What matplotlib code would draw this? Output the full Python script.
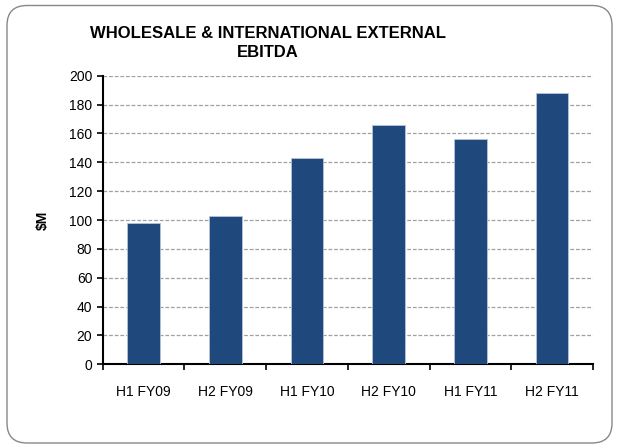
import matplotlib.pyplot as plt
from matplotlib.patches import FancyBboxPatch

periods = ["H1 FY09", "H2 FY09", "H1 FY10", "H2 FY10", "H1 FY11", "H2 FY11"]
ebitda = [98, 103, 143, 166, 156, 188]
yticks = [0, 20, 40, 60, 80, 100, 120, 140, 160, 180, 200]

plt.rcParams["font.family"] = ["Liberation Sans", "DejaVu Sans"]

fig = plt.figure(figsize=(6.19, 4.46), dpi=100)
W, H = 619, 446

# rounded chart frame (inches), kept behind the axes
frame = FancyBboxPatch((0.07, 0.03), 6.05, 4.375,
                       boxstyle="round,pad=0,rounding_size=0.2",
                       transform=fig.dpi_scale_trans, facecolor="white",
                       edgecolor="#888888", linewidth=1.0, zorder=-5)
fig.patches.append(frame)

ax = fig.add_axes([102.7 / W, 1 - 364.3 / H, (593 - 102.7) / W, (364.3 - 75.7) / H])
ax.set_zorder(2)
ax.set_facecolor("none")
x = range(len(periods))
ax.bar(x, ebitda, width=0.4, color="#1F497D", edgecolor="#B8C4D6", linewidth=0.6, zorder=3)

ax.set_xlim(-0.5, len(periods) - 0.5)
ax.set_ylim(0, 200)
ax.set_yticks(yticks)
ax.set_xticks(list(x))
ax.set_xticklabels(periods, fontsize=10)
ax.tick_params(axis="y", labelsize=10, length=4, width=1.2, direction="out")
ax.tick_params(axis="x", length=0, pad=15)
# category boundary ticks
ax.set_xticks([i - 0.5 for i in range(len(periods) + 1)], minor=True)
ax.tick_params(axis="x", which="minor", length=4, width=1.2, direction="out")

ax.grid(axis="y", color="#A0A0A0", linestyle=(0, (3, 1.5)), linewidth=0.9, zorder=0)
for s in ["top", "right"]:
    ax.spines[s].set_visible(False)
ax.spines["left"].set_linewidth(1.5)
ax.spines["bottom"].set_linewidth(1.5)

ax.set_ylabel("$M", fontsize=10, fontweight="bold", labelpad=14)
fig.text(268 / W, 1 - 43 / H, "WHOLESALE & INTERNATIONAL EXTERNAL\nEBITDA",
         ha="center", va="center", fontsize=12, fontweight="bold", linespacing=1.4)

fig.savefig("out.png", dpi=100)
